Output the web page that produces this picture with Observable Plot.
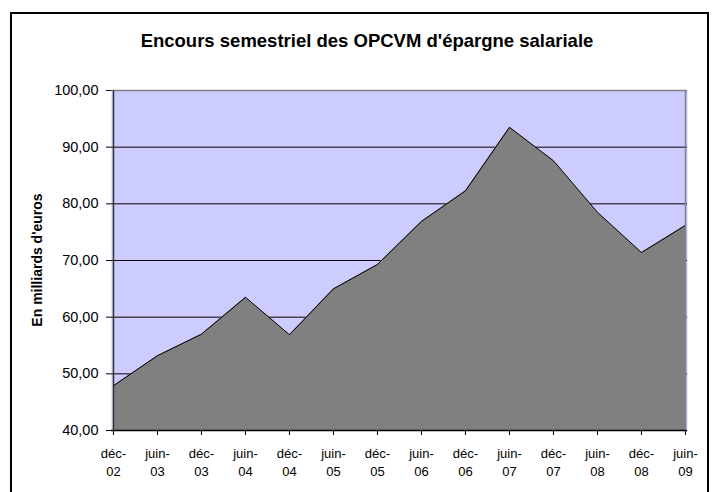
<!DOCTYPE html>
<html>
<head>
<meta charset="utf-8">
<script src="https://cdn.jsdelivr.net/npm/d3@7"></script>
<script src="https://cdn.jsdelivr.net/npm/@observablehq/plot@0.6"></script>
<style>
  html, body { margin: 0; padding: 0; background: #fff; }
  #wrap { position: relative; width: 717px; height: 492px; overflow: hidden; font-family: "Liberation Sans", Arial, sans-serif; }
  #border { position: absolute; left: 10px; top: 12px; width: 699px; height: 520px; border: 2px solid #000; box-sizing: border-box; }
  #title { position: absolute; left: 0; width: 734px; top: 30px; text-align: center; font-weight: bold; font-size: 18.5px; color: #000; }
  #ylabel { position: absolute; left: 37px; top: 260px; transform: translate(-50%, -50%) rotate(-90deg); white-space: nowrap; font-weight: bold; font-size: 14px; color: #000; }
  #chart { position: absolute; left: 0; top: 0; }
</style>
</head>
<body>
<div id="wrap">
  <div id="border"></div>
  <div id="title">Encours semestriel des OPCVM d'épargne salariale</div>
  <div id="chart"></div>
  <div id="ylabel"></div>
</div>
<script>
const categories = ["déc-02","juin-03","déc-03","juin-04","déc-04","juin-05","déc-05","juin-06","déc-06","juin-07","déc-07","juin-08","déc-08","juin-09"];
const values = [47.9, 53.2, 57.0, 63.5, 56.9, 65.0, 69.3, 76.9, 82.3, 93.5, 87.6, 78.5, 71.4, 76.2];
const yTicks = [40, 50, 60, 70, 80, 90, 100];
const gridTicks = [50, 60, 70, 80, 90];
const yLabel = "En milliards d'euros";

document.getElementById("ylabel").textContent = yLabel;

const data = categories.map((c, i) => ({cat: c, value: values[i]}));
const fmt = d => d.toFixed(2).replace(".", ",");

const chart = Plot.plot({
  width: 717,
  height: 492,
  marginTop: 90,
  marginBottom: 62,
  marginLeft: 111,
  marginRight: 30,
  style: {fontFamily: "'Liberation Sans', Arial, sans-serif", fontSize: "13px", background: "transparent", color: "#000", overflow: "visible"},
  x: {type: "point", domain: categories, padding: 0},
  y: {domain: [40, 100]},
  marks: [
    Plot.frame({fill: "#ccccff", stroke: "none"}),
    Plot.ruleY(gridTicks, {stroke: "#000", strokeWidth: 1}),
    Plot.areaY(data, {x: "cat", y1: 40, y2: "value", fill: "#808080", curve: "linear"}),
    Plot.lineY(data, {x: "cat", y: "value", stroke: "#000", strokeWidth: 1}),
    Plot.ruleY([100], {stroke: "#808080", strokeWidth: 1.5}),
    Plot.ruleX([categories[categories.length - 1]], {stroke: "#808080", strokeWidth: 1.5}),
    Plot.ruleX([categories[0]], {stroke: "#333", strokeWidth: 1.5}),
    Plot.ruleY([40], {stroke: "#000", strokeWidth: 1.5}),
    Plot.axisY({ticks: yTicks, tickFormat: fmt, tickSize: 5, tickPadding: 8, fontSize: 14.5, label: null, stroke: "#000"}),
    Plot.axisX({tickFormat: d => d.replace("-", "-\n"), tickSize: 5, tickPadding: 10, fontSize: 13, lineHeight: 1.35, label: null, stroke: "#000"})
  ]
});
document.getElementById("chart").appendChild(chart);
</script>
</body>
</html>
